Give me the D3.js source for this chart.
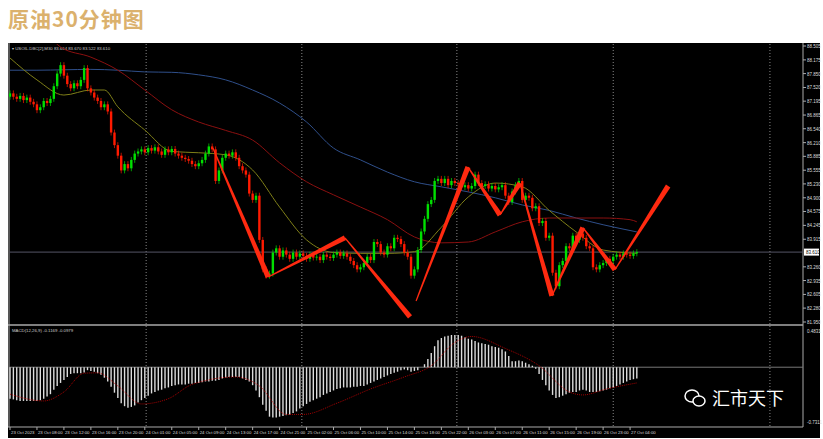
<!DOCTYPE html>
<html><head><meta charset="utf-8">
<script src="https://cdn.jsdelivr.net/npm/d3@7"></script>
<style>body{margin:0;background:#fff;}svg{display:block;}</style>
</head><body>
<script>
// close per 30-min bar
const closes = [
  87.38,87.30,87.25,87.32,87.22,87.28,87.18,87.12,
  86.98,87.05,87.20,87.15,87.25, 87.55,87.85,88.05,87.80, 87.60,87.50,87.62,
  87.55,87.70,87.98, 87.50,87.40,87.28, 87.20,87.05,87.12,86.95,
  86.45,86.15,85.90, 85.55,85.70,85.60, 85.80,85.95,86.00, 86.05,85.98,86.08,86.02,
  86.10,86.00,85.92,86.05,85.98,86.06, 85.95,85.90,85.85,85.82,85.78,85.70,85.65,
  85.72,85.80,85.95, 86.12,86.05, 85.30,85.55, 85.85,85.95,85.90,85.98,85.85,
  85.65,85.55,85.45, 85.00,84.85,84.95, 83.90, 83.20,83.05,83.10, 83.60,
  83.70,83.50,83.65,83.55,83.45,83.60,83.50,83.58,
  83.52,83.45,83.55,83.48,83.50,83.42,83.55,83.50,83.47,
  83.55,83.60,83.52,83.58,83.50, 83.40,83.30,83.20,83.25, 83.35,83.50,83.42,
  83.85,83.80,83.60, 83.55,83.75,83.70, 83.95,83.92,83.80, 83.60,83.50, 83.05,83.20,
  83.66, 84.10, 84.40, 84.75,84.85, 85.30,85.35, 85.25,85.35,85.20,85.30,85.25,85.22,
  85.15,85.20,85.12,85.18, 85.45, 85.25,85.18,85.22, 85.12,85.18,85.10,85.15,85.20,
  84.95,84.80, 85.05, 85.20,85.30, 84.85, 84.95,84.90, 84.65,84.70, 84.30,84.35,
  83.95,84.00, 83.12, 82.80, 83.30,83.40, 83.75,83.70, 84.00,83.90,84.05,83.95,
  83.75,83.70, 83.25,83.20, 83.30,83.35, 83.45,83.40,83.50, 83.55,83.50,83.58,83.55,
  83.52,83.58,83.61
];
const macd = [
  -0.42,-0.43,-0.44,-0.45,-0.45,-0.45,-0.45,-0.45,-0.45,-0.44,-0.42,
  -0.39,-0.36,-0.30,-0.25,-0.21,-0.17,-0.13,-0.09,-0.08,-0.08,
  -0.08,-0.07,-0.04,-0.05,-0.06,-0.08,-0.10,-0.14,-0.19,-0.26,
  -0.34,-0.41,-0.48,-0.52,-0.54,-0.53,-0.51,-0.47,-0.44,-0.41,
  -0.38,-0.35,-0.33,-0.31,-0.30,-0.28,-0.27,-0.25,-0.24,-0.23,
  -0.23,-0.23,-0.22,-0.22,-0.21,-0.21,-0.20,-0.19,-0.19,-0.18,
  -0.18,-0.17,-0.15,-0.14,-0.13,-0.13,-0.13,-0.13,-0.15,-0.17,
  -0.19,-0.24,-0.31,-0.40,-0.50,-0.58,-0.66,-0.67,-0.67,-0.66,
  -0.65,-0.64,-0.63,-0.61,-0.59,-0.55,-0.52,-0.49,-0.46,-0.44,
  -0.42,-0.40,-0.37,-0.35,-0.33,-0.31,-0.29,-0.28,-0.27,-0.27,
  -0.27,-0.26,-0.26,-0.25,-0.25,-0.23,-0.21,-0.19,-0.17,-0.15,
  -0.13,-0.11,-0.09,-0.075,-0.06,-0.04,-0.03,-0.04,-0.06,-0.05,
  -0.04,0.00,0.04,0.11,0.19,0.28,0.36,0.39,0.41,0.42,
  0.43,0.43,0.43,0.42,0.40,0.38,0.37,0.35,0.33,0.32,
  0.31,0.30,0.28,0.27,0.26,0.24,0.21,0.15,0.08,0.08,
  0.09,0.08,0.06,0.04,0.02,-0.02,-0.09,-0.17,-0.24,-0.31,
  -0.37,-0.41,-0.40,-0.38,-0.36,-0.34,-0.33,-0.33,-0.31,-0.30,
  -0.31,-0.33,-0.33,-0.33,-0.32,-0.31,-0.30,-0.28,-0.27,-0.25,
  -0.23,-0.21,-0.19,-0.17,-0.16,-0.15
];
// signal line [bar, value]
const signal = [[0,-0.36],[10,-0.45],[16,-0.33],[22,-0.08],[26,-0.075],[32,-0.25],[39,-0.49],
  [47,-0.42],[54,-0.23],[67,-0.13],[74,-0.25],[82,-0.63],[87,-0.63],[97,-0.48],[107,-0.29],
  [117,-0.13],[125,0.02],[132,0.33],[137,0.41],[147,0.25],[157,0.02],[166,-0.33],[170,-0.37],
  [177,-0.29],[186,-0.21]];
// moving averages [bar, price]
const maFast = [[0,88.22],[8,87.7],[16,87.34],[24,87.46],[28,87.46],[32,87.06],[40,86.51],[48,86.0],
  [56,85.97],[64,85.92],[72,85.56],[80,84.68],[88,83.9],[96,83.6],[104,83.58],[112,83.58],[120,83.62],
  [128,84.2],[136,84.92],[144,85.25],[152,85.16],[160,84.6],[168,84.09],[176,83.66],[186,83.58]];
const maMid = [[13,88.62],[15,88.48],[24,88.24],[32,87.93],[40,87.46],[48,86.99],[56,86.7],[64,86.5],
  [72,86.27],[80,85.73],[88,85.28],[96,84.97],[104,84.68],[112,84.38],[120,83.97],[128,83.83],
  [136,83.85],[144,84.09],[152,84.33],[160,84.42],[168,84.42],[176,84.42],[184,84.38],[186,84.33]];
const maSlow = [[0,87.93],[8,87.93],[16,87.94],[24,87.95],[32,87.93],[40,87.89],[48,87.88],[56,87.82],
  [64,87.7],[72,87.46],[80,87.15],[88,86.7],[96,86.08],[104,85.8],[112,85.51],[120,85.28],[128,85.16],
  [136,85.04],[144,84.9],[152,84.73],[160,84.6],[168,84.42],[176,84.26],[186,84.09]];
// hand-drawn trend strokes, each [fromBar, fromPrice, toBar, toPrice]
const strokes = [[60.2,86.08,76.6,83.02],[76.6,83.02,99.4,83.95],[99.4,83.95,118.7,82.07],
  [120.5,82.45,135.9,85.63],[135.9,85.63,145.4,84.49],[145.4,84.49,151.3,85.25],
  [151.3,85.25,160.8,82.57],[160.8,82.57,170,84.19],[170,84.19,179.5,83.19],[179.5,83.19,195.3,85.18]];
const priceTicks = [88.505,88.175,87.850,87.520,87.195,86.865,86.540,86.210,85.885,85.555,85.230,
  84.900,84.575,84.245,83.915,83.260,82.935,82.605,82.280,81.950];
const timeLabels = ["23 Oct 2023","23 Oct 08:00","23 Oct 12:00","23 Oct 16:00","23 Oct 20:00",
  "24 Oct 01:00","24 Oct 05:00","24 Oct 09:00","24 Oct 13:00","24 Oct 17:00","24 Oct 21:00",
  "25 Oct 02:00","25 Oct 06:00","25 Oct 10:00","25 Oct 14:00","25 Oct 18:00","25 Oct 22:00",
  "26 Oct 03:00","26 Oct 07:00","26 Oct 11:00","26 Oct 15:00","26 Oct 19:00","26 Oct 23:00","27 Oct 04:00"];
const daySeps = [40.4, 86.6, 132.6, 179, 225.5];
const lastPrice = 83.610;

const W = 823, H = 439;
const svg = d3.select("body").append("svg").attr("width", W).attr("height", H)
  .style("font-family", "Arial, 'Liberation Sans', sans-serif");

svg.append("text").attr("x", 8).attr("y", 27).text("原油30分钟图")
  .attr("fill", "#dbb16d").attr("font-size", 21).attr("font-weight", "bold")
  .style("font-family", "'Noto Sans CJK SC', sans-serif").attr("letter-spacing", 1);

svg.append("rect").attr("x", 8).attr("y", 43).attr("width", 812).attr("height", 395).attr("fill", "#000");

const x = d3.scaleLinear().domain([0, 1]).range([10, 13.37]);
const y = d3.scaleLinear().domain([81.950, 88.505]).range([322, 46]);
const ym = d3.scaleLinear().domain([-0.7311, 0.4831]).range([422, 331]);

// frame lines
const g = svg.append("g");
g.append("line").attr("x1", 8).attr("x2", 803).attr("y1", 325).attr("y2", 325).attr("stroke", "#aaa").attr("stroke-width", 1.5);
g.append("line").attr("x1", 803).attr("x2", 803).attr("y1", 43).attr("y2", 427).attr("stroke", "#aaa");
g.append("line").attr("x1", 8).attr("x2", 803).attr("y1", 427).attr("y2", 427).attr("stroke", "#aaa");
g.append("line").attr("x1", 9).attr("x2", 9).attr("y1", 43).attr("y2", 427).attr("stroke", "#aaa");

daySeps.forEach(d => g.append("line").attr("x1", x(d)).attr("x2", x(d)).attr("y1", 44).attr("y2", 427)
  .attr("stroke", "#888").attr("stroke-dasharray", "1,2"));

// price axis
priceTicks.forEach(p => {
  g.append("line").attr("x1", 803).attr("x2", 806).attr("y1", y(p)).attr("y2", y(p)).attr("stroke", "#aaa");
  g.append("text").attr("x", 807).attr("y", y(p) + 2).text(p.toFixed(3)).attr("fill", "#ddd").attr("font-size", 4.5);
});
g.append("line").attr("x1", 9).attr("x2", 803).attr("y1", y(lastPrice)).attr("y2", y(lastPrice)).attr("stroke", "#556");
g.append("rect").attr("x", 804).attr("y", y(lastPrice) - 3.5).attr("width", 15).attr("height", 7).attr("fill", "#fff");
g.append("text").attr("x", 806).attr("y", y(lastPrice) + 2).text(lastPrice.toFixed(3)).attr("fill", "#000").attr("font-size", 4.5);

// time axis
timeLabels.forEach((t, i) => {
  const xx = x(i * 8);
  g.append("line").attr("x1", xx).attr("x2", xx).attr("y1", 427).attr("y2", 430).attr("stroke", "#aaa");
  g.append("text").attr("x", xx + 1).attr("y", 434).text(t).attr("fill", "#ddd").attr("font-size", 4.3);
});

// MAs
const line = d3.line().x(d => x(d[0])).y(d => y(d[1])).curve(d3.curveMonotoneX);
svg.append("clipPath").attr("id", "pc").append("rect").attr("x", 9).attr("y", 44).attr("width", 794).attr("height", 280);
const pg = svg.append("g").attr("clip-path", "url(#pc)");
pg.append("path").attr("d", line(maSlow)).attr("fill", "none").attr("stroke", "#2f4f8a").attr("stroke-width", 1);
pg.append("path").attr("d", line(maMid)).attr("fill", "none").attr("stroke", "#8b1010").attr("stroke-width", 1);
pg.append("path").attr("d", line(maFast)).attr("fill", "none").attr("stroke", "#7f7f18").attr("stroke-width", 1);

// candles
closes.forEach((c, i) => {
  const o = i === 0 ? 87.30 : closes[i - 1];
  const up = c >= o;
  const col = up ? "#00e000" : "#ff1a00";
  const hi = Math.max(o, c) + 0.07, lo = Math.min(o, c) - 0.07;
  pg.append("line").attr("x1", x(i)).attr("x2", x(i)).attr("y1", y(hi)).attr("y2", y(lo)).attr("stroke", col).attr("stroke-width", 0.7);
  const top = y(Math.max(o, c)), bot = y(Math.min(o, c));
  pg.append("rect").attr("x", x(i) - 1.2).attr("width", 2.4).attr("y", top).attr("height", Math.max(0.8, bot - top)).attr("fill", col);
});

// tapered strokes: thin at start, thick at end
strokes.forEach(s => {
  const x0 = x(s[0]), y0 = y(s[1]), x1 = x(s[2]), y1 = y(s[3]);
  const len = Math.hypot(x1 - x0, y1 - y0), nx = -(y1 - y0) / len, ny = (x1 - x0) / len;
  const w0 = 0.6, w1 = 2.6;
  const pts = [[x0 + nx * w0, y0 + ny * w0], [x1 + nx * w1, y1 + ny * w1], [x1 - nx * w1, y1 - ny * w1], [x0 - nx * w0, y0 - ny * w0]];
  pg.append("polygon").attr("points", pts.map(p => p.join(",")).join(" ")).attr("fill", "#ff2a10");
});

g.append("text").attr("x", 12).attr("y", 50).text("▾ USOIL.DBC[2],M30  83.664 83.670 83.522 83.610").attr("fill", "#ccc").attr("font-size", 4.3);

// MACD pane
g.append("line").attr("x1", 9).attr("x2", 803).attr("y1", ym(0)).attr("y2", ym(0)).attr("stroke", "#777");
macd.forEach((v, i) => {
  g.append("line").attr("x1", x(i)).attr("x2", x(i)).attr("y1", ym(0)).attr("y2", ym(v)).attr("stroke", "#ddd").attr("stroke-width", 1.4);
});
g.append("path").attr("d", d3.line().x(d => x(d[0])).y(d => ym(d[1])).curve(d3.curveMonotoneX)(signal))
  .attr("fill", "none").attr("stroke", "#c00").attr("stroke-width", 0.8).attr("stroke-dasharray", "1,1");
g.append("text").attr("x", 12).attr("y", 332).text("MACD(12,26,9) -0.1169 -0.0979").attr("fill", "#ccc").attr("font-size", 4.3);
g.append("text").attr("x", 807).attr("y", ym(0.4831) + 2).text("0.4831").attr("fill", "#ddd").attr("font-size", 4.5);
g.append("text").attr("x", 807).attr("y", ym(-0.7311) + 2).text("-0.7311").attr("fill", "#ddd").attr("font-size", 4.5);

// watermark
const wm = svg.append("g").attr("transform", "translate(692,398)");
wm.append("ellipse").attr("cx", 0).attr("cy", -2).attr("rx", 7).attr("ry", 6).attr("fill", "none").attr("stroke", "#fff").attr("stroke-width", 1.5);
wm.append("ellipse").attr("cx", 7).attr("cy", 3).attr("rx", 6).attr("ry", 5).attr("fill", "#000").attr("stroke", "#fff").attr("stroke-width", 1.5);
wm.append("text").attr("x", 20).attr("y", 7).text("汇市天下").attr("fill", "#fff").attr("font-size", 18)
  .style("font-family", "'Noto Sans CJK SC', sans-serif");
</script>
</body></html>
